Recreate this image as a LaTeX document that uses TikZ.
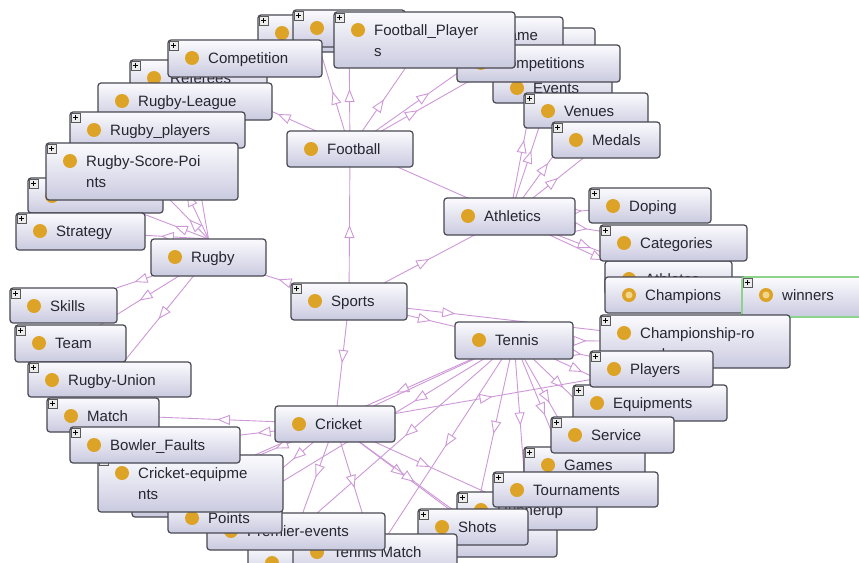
\documentclass[tikz,border=0pt]{standalone}
\usepackage{fontspec}
\setmainfont{Liberation Sans}
\usetikzlibrary{arrows.meta, decorations.markings}
\definecolor{edgec}{RGB}{206,152,216}
\definecolor{boxtop}{RGB}{251,251,254}
\definecolor{boxbot}{RGB}{202,202,224}
\definecolor{boxline}{RGB}{72,72,82}
\definecolor{dotc}{RGB}{221,163,38}
\definecolor{dotin}{RGB}{242,214,140}
\definecolor{winc}{RGB}{140,212,140}
\definecolor{txtc}{RGB}{38,38,48}
\pgfdeclarelayer{bg}
\pgfsetlayers{bg,main}
\tikzset{
clsbox/.style={draw=boxline, line width=1.2pt, rounded corners=3pt, top color=boxtop, bottom color=boxbot, inner sep=0pt, outer sep=0pt},
lbl/.style={font=\fontsize{15}{17}\selectfont, text=txtc, inner sep=0pt, anchor=base west},
isa/.style={draw=edgec, line width=.9pt, postaction={decorate}, decoration={markings, mark=at position #1 with {\arrow{Triangle[length=13pt,width=10pt,fill=white]}}}},
isa/.default=.5,
rel/.style={draw=edgec, line width=.9pt},
plusbox/.style={draw=gray!70!black, fill=gray!15, line width=.5pt},
plusmark/.style={draw=black, line width=.7pt}
}
\newcommand\two[2]{\begin{tabular}[t]{@{}l@{}}#1\\[4pt]#2\end{tabular}}
\newcommand\cls[7][]{\node[clsbox,#1,minimum width={(#5-#3)*1pt},minimum height={(#6-#4)*1pt}] (#2) at ({(#3+#5)/2},{(#4+#6)/2}) {};\fill[dotc] (#3+24,#4+18) circle (7pt);\node[lbl] (#2-t) at (#3+40,#4+23) {#7};}
\newcommand\pls[1]{\draw[plusbox] ([shift={(1pt,-1pt)}]#1.north west) rectangle ([shift={(10pt,-10pt)}]#1.north west);\draw[plusmark] ([shift={(3pt,-5.5pt)}]#1.north west) -- ([shift={(8pt,-5.5pt)}]#1.north west) ([shift={(5.5pt,-3pt)}]#1.north west) -- ([shift={(5.5pt,-8pt)}]#1.north west);}
\newcommand\sel[1]{\fill[dotin] ([shift={(24pt,-18pt)}]#1.north west) circle (3.5pt);}

\begin{document}
\begin{tikzpicture}[x=1pt,y=-1pt]
\useasboundingbox (0,0) rectangle (859,562);
\cls{hidtopa}{258}{15}{372}{52}{}\pls{hidtopa}
\cls{hidtopb}{293}{10}{405}{47}{}\pls{hidtopb}
\cls{referees}{130}{60}{267}{98}{Referees}\pls{referees}
\cls{competition}{168}{40}{322}{77}{Competition}\pls{competition}
\cls{hidtopc}{470}{28}{595}{62}{}
\cls{game}{457}{17}{563}{55}{Game}
\cls{events}{493}{70}{612}{103}{Events}
\cls{competitions}{457}{45}{620}{82}{Competitions}
\cls{venues}{524}{93}{648}{128}{Venues}\pls{venues}
\cls{medals}{552}{122}{660}{158}{Medals}\pls{medals}
\cls{footballplayers}{334}{12}{515}{68}{\two{Football\_Player}{s}}\pls{footballplayers}
\cls{rugbyleague}{98}{83}{272}{120}{Rugby-League}
\cls{rugbyplayers}{70}{112}{245}{148}{Rugby\_players}\pls{rugbyplayers}
\cls{hidleft}{28}{178}{163}{213}{}\pls{hidleft}
\cls{rugbyscore}{46}{143}{238}{200}{\two{Rugby-Score-Poi}{nts}}\pls{rugbyscore}
\cls{strategy}{16}{213}{145}{250}{Strategy}\pls{strategy}
\cls{rugby}{151}{239}{266}{276}{Rugby}
\cls{skills}{10}{288}{117}{323}{Skills}\pls{skills}
\cls{team}{15}{325}{126}{362}{Team}\pls{team}
\cls{match}{47}{398}{159}{432}{Match}\pls{match}
\cls{rugbyunion}{28}{362}{191}{397}{Rugby-Union}\pls{rugbyunion}

\cls{football}{287}{131}{413}{167}{Football}
\cls{athletics}{444}{198}{575}{235}{Athletics}
\cls{sports}{291}{283}{407}{320}{Sports}\pls{sports}
\cls{tennis}{455}{322}{573}{359}{Tennis}
\cls{cricket}{275}{406}{395}{442}{Cricket}

\cls{doping}{589}{188}{711}{223}{Doping}\pls{doping}
\cls{athletes}{605}{261}{732}{295}{Athletes}
\cls{categories}{600}{225}{747}{261}{Categories}\pls{categories}
\cls{champions}{605}{277}{753}{313}{Champions}\sel{champions}
\cls[draw=winc,line width=1.6pt]{winners}{742}{277}{875}{317}{winners}\sel{winners}\pls{winners}
\cls{championship}{600}{315}{790}{368}{\two{Championship-ro}{und}}\pls{championship}
\cls{equipments}{573}{385}{727}{421}{Equipments}\pls{equipments}
\cls{players}{590}{351}{713}{387}{Players}\pls{players}
\cls{games}{524}{447}{645}{482}{Games}\pls{games}
\cls{service}{551}{417}{674}{453}{Service}\pls{service}

\cls{hidbot}{248}{545}{400}{580}{}
\cls{hidsh}{430}{522}{557}{557}{}
\cls{runnerup}{457}{492}{597}{530}{Runnerup}\pls{runnerup}
\cls{tournaments}{493}{472}{658}{507}{Tournaments}\pls{tournaments}
\cls{shots}{418}{509}{528}{545}{Shots}\pls{shots}
\cls{tennismatch}{293}{534}{457}{575}{Tennis Match}
\cls{premier}{207}{513}{385}{550}{Premier-events}
\cls{hidcr}{132}{475}{275}{517}{}
\cls{points}{168}{500}{282}{533}{Points}
\cls{cricketequip}{98}{455}{283}{512}{\two{Cricket-equipme}{nts}}\pls{cricketequip}
\cls{bowler}{70}{427}{240}{463}{Bowler\_Faults}\pls{bowler}

\begin{pgfonlayer}{bg}
\fill[white] (0,0) rectangle (859,562);
\draw[isa] (sports) -- (football);
\draw[isa] (sports) -- (athletics);
\draw[isa] (sports) -- (tennis);
\draw[isa] (sports) -- (cricket);
\draw[isa] (sports) -- (rugby);
\draw[isa=.25] (sports) -- (championship);

\draw[isa] (football) -- (hidtopa);
\draw[isa] (football) -- (hidtopb);
\draw[isa] (football) -- (footballplayers);
\draw[isa] (football) -- (game);
\draw[isa=.3] (football) -- (hidtopc);

\draw[isa=.84] (athletics) -- (referees);
\draw[isa] (athletics) -- (competitions);
\draw[isa] (athletics) -- (events);
\draw[isa] (athletics) -- (venues);
\draw[isa] (athletics) -- (medals);
\draw[isa] (athletics) -- (doping);
\draw[isa] (athletics) -- (categories);
\draw[isa] (athletics) -- (athletes);
\draw[isa=.6] (athletics) -- (champions);

\draw[isa] (rugby.north) -- (rugbyleague);
\draw[isa] (rugby.north) -- (rugbyplayers);
\draw[isa] (rugby.north) -- (rugbyscore);
\draw[isa] (rugby.north) -- (hidleft);
\draw[isa=.75] (rugby.north) -- (strategy);
\draw[isa] (rugby) -- (skills);
\draw[isa] (rugby) -- (team);
\draw[isa] (rugby) -- (rugbyunion);

\draw[isa] (tennis) -- (championship);
\draw[isa] (tennis) -- (players);
\draw[isa] (tennis) -- (equipments);
\draw[isa] (tennis) -- (service);
\draw[isa] (tennis) -- (games);
\draw[isa] (tennis) -- (tournaments);
\draw[isa] (tennis) -- (runnerup);
\draw[isa] (tennis) -- (shots);
\draw[isa] (tennis) -- (tennismatch);
\draw[isa] (tennis) -- (premier);
\draw[isa=.3] (tennis) -- (points);
\draw[isa=.35] (tennis) -- (cricketequip);
\draw[rel] (tennis) -- (cricket);

\draw[isa] (cricket) -- (match);
\draw[isa] (cricket) -- (bowler);
\draw[isa] (cricket) -- (cricketequip);
\draw[isa=.3] (cricket) -- (points);
\draw[isa] (cricket) -- (premier);
\draw[isa] (cricket) -- (tennismatch);
\draw[isa] (cricket) -- (shots);
\draw[isa] (cricket) -- (hidsh);
\draw[isa] (cricket) -- (runnerup);
\draw[isa] (cricket) -- (players);
\end{pgfonlayer}
\end{tikzpicture}
\end{document}
